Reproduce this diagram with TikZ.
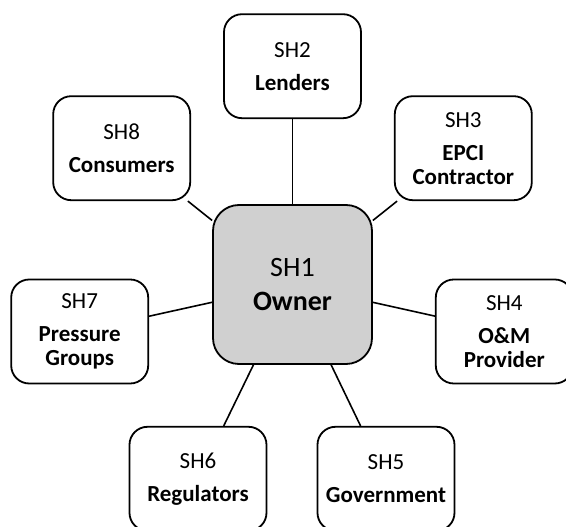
\documentclass[tikz,border=0pt]{standalone}
\usepackage{fontspec}
\setmainfont{Carlito}
\usepackage{tikz}
\usetikzlibrary{positioning}

\definecolor{ownergray}{RGB}{208,208,208}

\begin{document}
\begin{tikzpicture}[
        % Riquadri degli stakeholder
        box/.style={
            draw,
            line width=1.8pt,
            rounded corners=18pt,
            align=center,
            minimum width=137pt,
            minimum height=104pt,
            font=\fontsize{23}{24}\selectfont
        },
        % Riquadro centrale
        owner/.style={
            box,
            fill=ownergray,
            rounded corners=26pt,
            minimum width=159pt,
            minimum height=159pt,
            font=\fontsize{28}{30}\selectfont
        },
        link/.style={line width=1.6pt},
    ]

    \useasboundingbox (-292.5pt,284.5pt) rectangle (273.5pt,-242.5pt);

    \node[owner] (sh1) {SH1\\[4pt] \textbf{Owner}};

    \node[box, above=85pt of sh1] (sh2) {SH2\\[9pt] \textbf{Lenders}};
    \node[box, above right=3pt and 21pt of sh1] (sh3) {SH3\\[9pt] \textbf{EPCI}\\ \textbf{Contractor}};
    \node[box, right=62pt of sh1, yshift=-47pt] (sh4) {SH4\\[9pt] \textbf{O\&M}\\ \textbf{Provider}};
    \node[box, below=61pt of sh1, xshift=93.5pt] (sh5) {SH5\\[9pt] \textbf{Government}};
    \node[box, below=61pt of sh1, xshift=-94.5pt] (sh6) {SH6\\[9pt] \textbf{Regulators}};
    \node[box, left=63pt of sh1, yshift=-47pt] (sh7) {SH7\\[9pt] \textbf{Pressure}\\ \textbf{Groups}};
    \node[box, above left=3pt and 21pt of sh1] (sh8) {SH8\\[9pt] \textbf{Consumers}};

    % Collegamenti con il proprietario
    \foreach \i in {2,...,8}
        \draw[link] (sh1) -- (sh\i);

\end{tikzpicture}
\end{document}
